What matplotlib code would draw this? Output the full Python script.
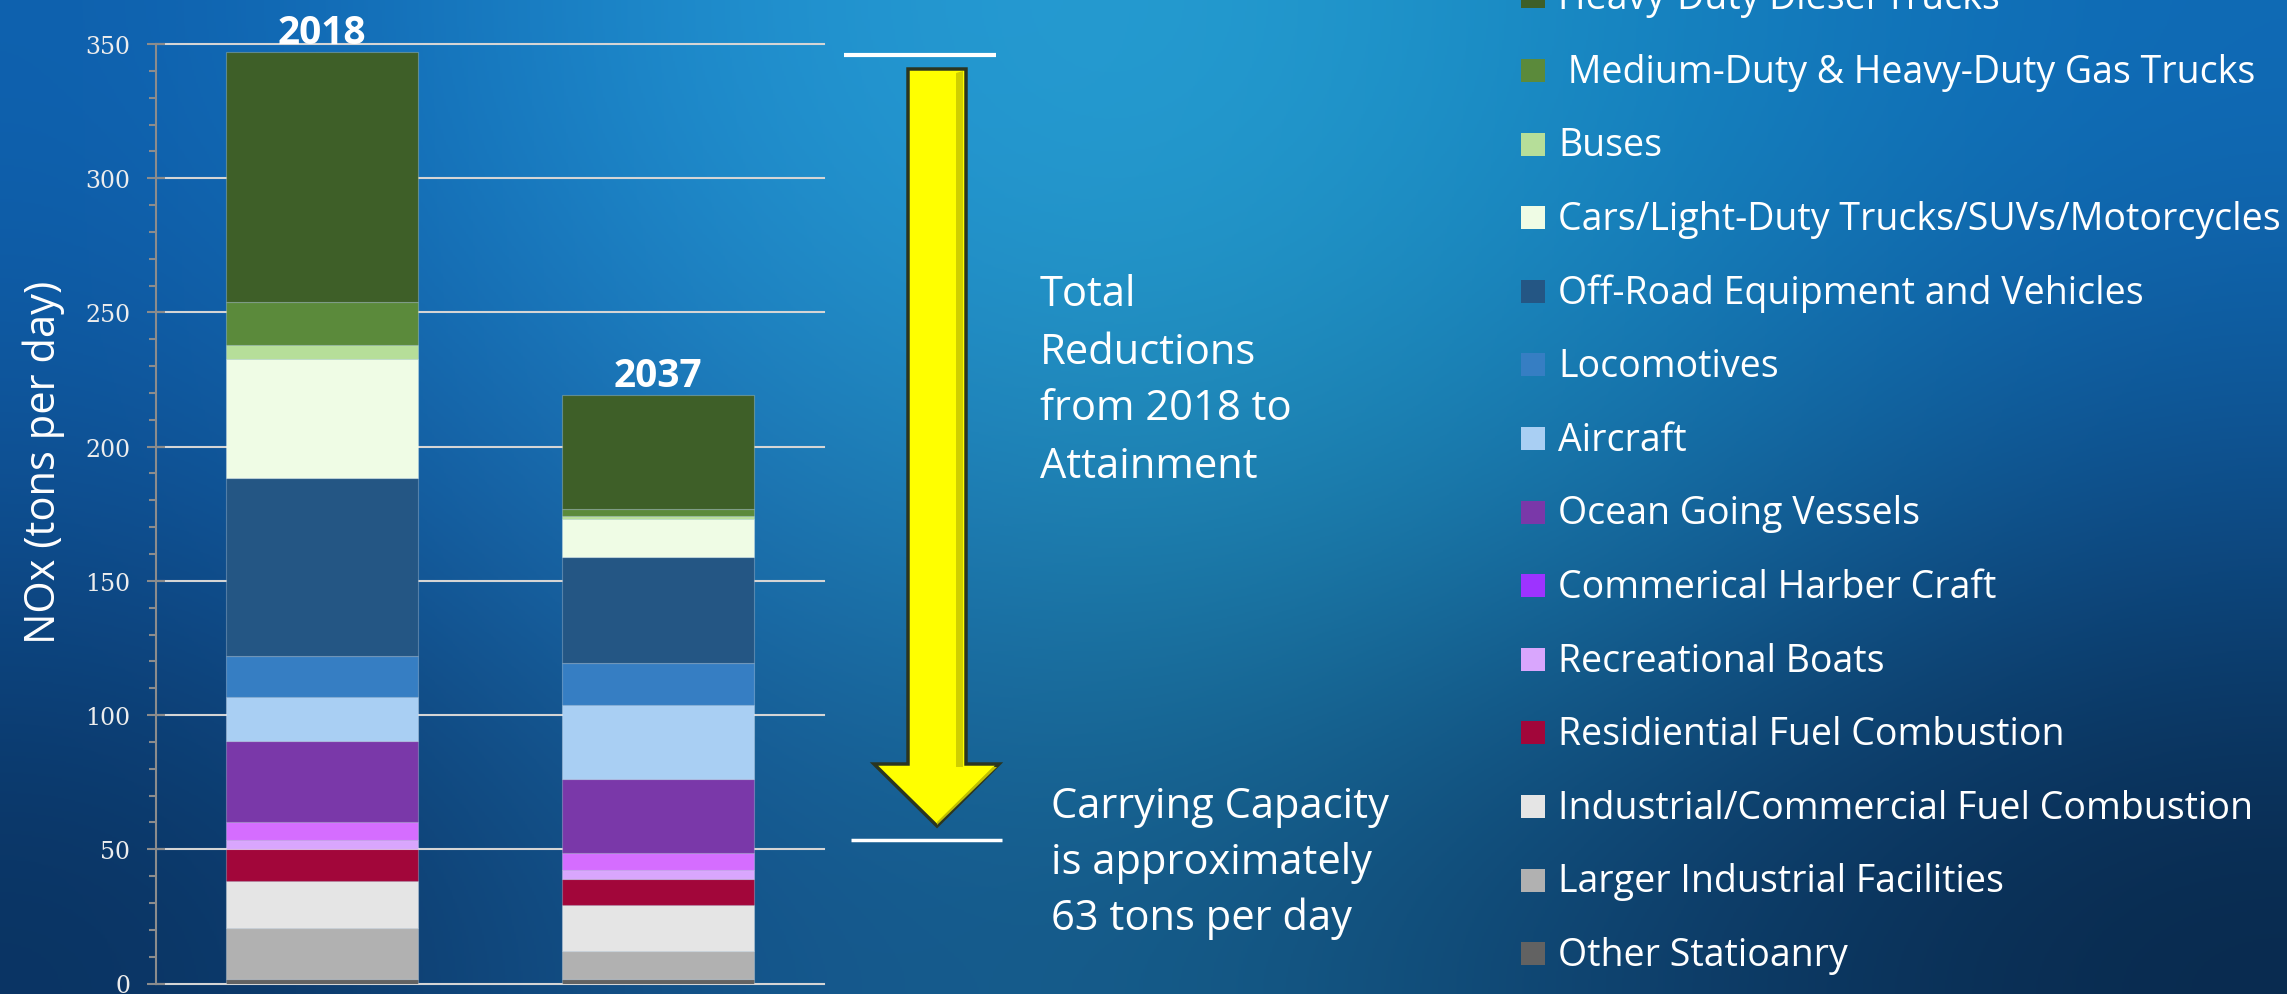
import numpy as np
import matplotlib
matplotlib.use('Agg')
import matplotlib.pyplot as plt
from matplotlib.patches import Rectangle, Polygon
from matplotlib.ticker import MultipleLocator
from matplotlib.colors import to_rgb

# Data (legend order, top of stack first)
years = ['2018', '2037']
sources = ['Heavy-Duty Diesel Trucks',
           ' Medium-Duty & Heavy-Duty Gas Trucks',
           'Buses',
           'Cars/Light-Duty Trucks/SUVs/Motorcycles',
           'Off-Road Equipment and Vehicles',
           'Locomotives',
           'Aircraft',
           'Ocean Going Vessels',
           'Commerical Harber Craft',
           'Recreational Boats',
           'Residiential Fuel Combustion',
           'Industrial/Commercial Fuel Combustion',
           'Larger Industrial Facilities',
           'Other Statioanry']
nox_2018 = [93.5, 15.7, 5.4, 44.2, 66.3, 15.4, 16.5, 30.1, 6.6, 3.5, 11.7, 17.8, 18.8, 1.7]
nox_2037 = [42.6, 2.4, 1.1, 14.2, 39.5, 15.8, 27.6, 27.2, 6.6, 3.1, 9.9, 17.2, 10.3, 1.7]
bar_colors = ['#3E5F28', '#5B8A3B', '#B6DE99', '#EFFCE5', '#245684', '#367EC3', '#A9CFF3',
              '#7A38A9', '#D56DFF', '#D9A6FD', '#A2063A', '#E5E5E5', '#B1B1B1', '#626262']
legend_colors = bar_colors[:8] + ['#9D33FF'] + bar_colors[9:]

W, H = 2287, 995
FONT = ['Open Sans', 'DejaVu Sans']

fig = plt.figure(figsize=(W / 100, H / 100), dpi=100)

# background gradient
bg_colors = [['#0E60AE', '#1F8FD0', '#29A2D4', '#1688C2', '#0F6AB6'],
             ['#0E4F92', '#1E72B8', '#1F8AB4', '#1874AA', '#0E4D8A'],
             ['#0A3260', '#15558F', '#165F8A', '#0E406E', '#09294C']]
bg = fig.add_axes([0, 0, 1, 1], zorder=0)
bg.imshow(np.array([[to_rgb(c) for c in row] for row in bg_colors]),
          aspect='auto', interpolation='bicubic', extent=(0, 1, 0, 1))
bg.axis('off')

# main chart
ax = fig.add_axes([156 / W, 1 - 984.5 / H, (824 - 156) / W, (984.5 - 45) / H], zorder=1)
ax.patch.set_alpha(0)
x = np.arange(len(years))
bottoms = np.zeros(len(years))
for v18, v37, c in reversed(list(zip(nox_2018, nox_2037, bar_colors))):
    vals = np.array([v18, v37])
    ax.bar(x, vals, width=0.571, bottom=bottoms, color=c,
           edgecolor=(1, 1, 1, 0.25), linewidth=0.8, zorder=3)
    bottoms += vals

for xi, yr, tot in zip(x, years, bottoms):
    ax.annotate(yr, (xi, tot), xytext=(0, 9), textcoords='offset pixels',
                ha='center', va='baseline', fontsize=28, fontweight='bold',
                family=FONT, color='white', annotation_clip=False)

ax.set_xlim(-0.494, 1.494)
ax.set_ylim(0, 350)
ax.set_yticks(range(0, 351, 50))
ax.yaxis.set_minor_locator(MultipleLocator(10))
ax.tick_params(axis='y', which='major', direction='inout', length=13, width=1.5,
               color='#8C8C8C', labelsize=17, labelcolor='#EDEDED', pad=12)
ax.tick_params(axis='y', which='minor', direction='out', length=5, width=1.5, color='#8C8C8C')
for lab in ax.get_yticklabels():
    lab.set_family('DejaVu Serif')
ax.tick_params(axis='x', length=0, labelbottom=False)
ax.grid(axis='y', color='#D5D5D5', linewidth=1.5)
ax.set_axisbelow(True)
for gl in ax.get_ygridlines():
    gl.set_clip_on(False)
for s in ['top', 'right', 'bottom']:
    ax.spines[s].set_visible(False)
ax.spines['left'].set_color('#8C8C8C')
ax.spines['left'].set_linewidth(1.5)

fig.text(44 / W, 1 - 462 / H, 'NOx (tons per day)', rotation=90, ha='center', va='center',
         fontsize=30, family=FONT, color='white')

# overlay in pixel coordinates: arrow, notes, legend
ov = fig.add_axes([0, 0, 1, 1], zorder=2)
ov.set_xlim(0, W)
ov.set_ylim(H, 0)
ov.axis('off')
ov.patch.set_alpha(0)

ov.plot([844, 996], [56, 56], color='white', lw=3, solid_capstyle='butt')
ov.plot([851, 1002], [841, 841], color='white', lw=2.5, solid_capstyle='butt')
arrow = [(908, 70), (966, 70), (966, 765), (999, 765), (937, 827), (874, 765), (908, 765)]
ov.add_patch(Polygon(arrow, closed=True, facecolor='#FFFF00', edgecolor='#2B3520', lw=2.5))
ov.add_patch(Polygon([(956, 74), (963, 72), (963, 768), (956, 768)], closed=True,
                     facecolor='#CFCF00', edgecolor='none'))
ov.add_patch(Polygon([(937, 823), (993, 768), (997, 768), (937, 826)], closed=True,
                     facecolor='#BFBF00', edgecolor='none'))

for i, line in enumerate(['Total', 'Reductions', 'from 2018 to', 'Attainment']):
    ov.text(1040, 306.5 + 57 * i, line, ha='left', va='baseline', fontsize=30,
            family=FONT, color='white')
for i, line in enumerate(['Carrying Capacity', 'is approximately', '63 tons per day']):
    ov.text(1051, 818.5 + 56 * i, line, ha='left', va='baseline', fontsize=30,
            family=FONT, color='white')

for i, (name, c) in enumerate(zip(sources, legend_colors)):
    base = -0.7 + 73.6 * i + 10
    ov.add_patch(Rectangle((1521, base - 23), 24, 23, facecolor=c, edgecolor='none'))
    ov.text(1558, base, name, ha='left', va='baseline', fontsize=27, family=FONT, color='white')

fig.savefig('out.png', dpi=100)
